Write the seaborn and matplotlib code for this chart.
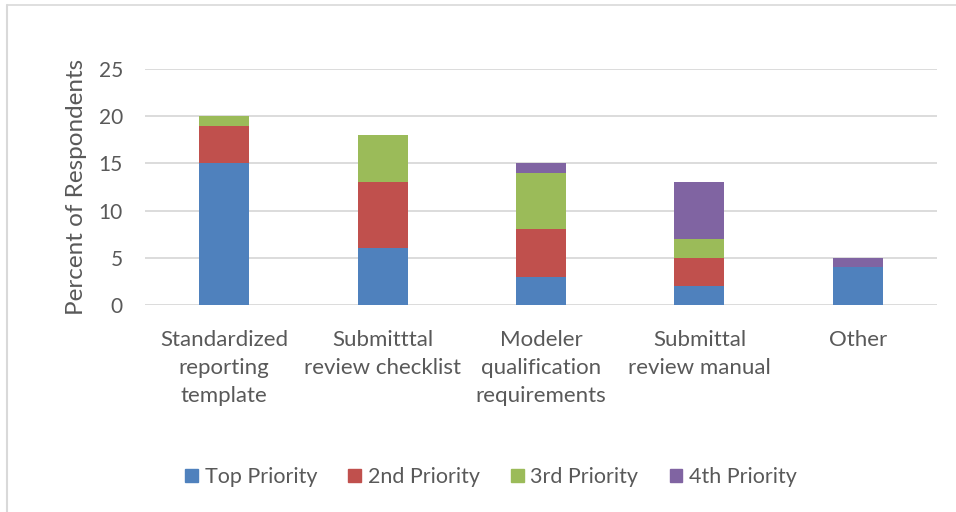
import matplotlib
matplotlib.use("Agg")
import matplotlib.pyplot as plt
import seaborn as sns
import numpy as np
from matplotlib.lines import Line2D

categories = ["Standardized\nreporting\ntemplate", "Submitttal\nreview checklist",
              "Modeler\nqualification\nrequirements", "Submittal\nreview manual", "Other"]
top_priority = [15, 6, 3, 2, 4]
second_priority = [4, 7, 5, 3, 0]
third_priority = [1, 5, 6, 2, 0]
fourth_priority = [0, 0, 1, 6, 1]
series_names = ["Top Priority", "2nd Priority", "3rd Priority", "4th Priority"]
colors = ["#4F81BD", "#C0504D", "#9BBB59", "#8064A2"]
yticks = [0, 5, 10, 15, 20, 25]

sns.set_theme(style="white")
plt.rcParams['font.family'] = ['Lato', 'DejaVu Sans']
text_color = "#595959"

fig = plt.figure(figsize=(9.56, 5.12), dpi=100)
ax = fig.add_axes([145/956, 1-305/512, 792/956, 236/512])

series = [top_priority, second_priority, third_priority, fourth_priority]
bottom = np.zeros(len(categories))
for name, vals, c in zip(series_names, series, colors):
    sns.barplot(x=categories, y=vals, bottom=bottom, color=c, width=0.315,
                label=name, ax=ax, linewidth=0, saturation=1, zorder=3)
    bottom = bottom + np.array(vals)

ax.set_ylim(0, 25)
ax.set_xlim(-0.5, 4.5)
ax.set_yticks(yticks)
ax.set_yticklabels([str(t) for t in yticks], fontsize=15, color=text_color)
ax.set_xticks(range(len(categories)))
ax.set_xticklabels(categories, fontsize=16, color=text_color, linespacing=1.5)
ax.tick_params(axis='x', length=0, pad=18)
ax.tick_params(axis='y', length=0, pad=16)
ax.grid(axis='y', color="#D9D9D9", linewidth=1.3, zorder=0)
ax.set_axisbelow(True)
for s in ax.spines.values():
    s.set_visible(False)
ax.set_ylabel("Percent of Respondents", fontsize=17.5, color=text_color, labelpad=8)
ax.set_xlabel("")
if ax.get_legend():
    ax.get_legend().remove()

handles = [plt.Rectangle((0, 0), 1, 1, color=c) for c in colors]
fig.legend(handles, series_names, loc="center", bbox_to_anchor=(491/956, 1-477/512),
           ncol=4, frameon=False, fontsize=15.5, labelcolor=text_color,
           handlelength=0.6, handleheight=0.6, handletextpad=0.3, columnspacing=1.45)

# chart border
fig.add_artist(Line2D([7/956, 1], [1-5/512, 1-5/512], color="#D9D9D9", linewidth=1.2))
fig.add_artist(Line2D([7/956, 7/956], [0, 1-5/512], color="#D9D9D9", linewidth=1.5))

fig.savefig("out.png", dpi=100)
